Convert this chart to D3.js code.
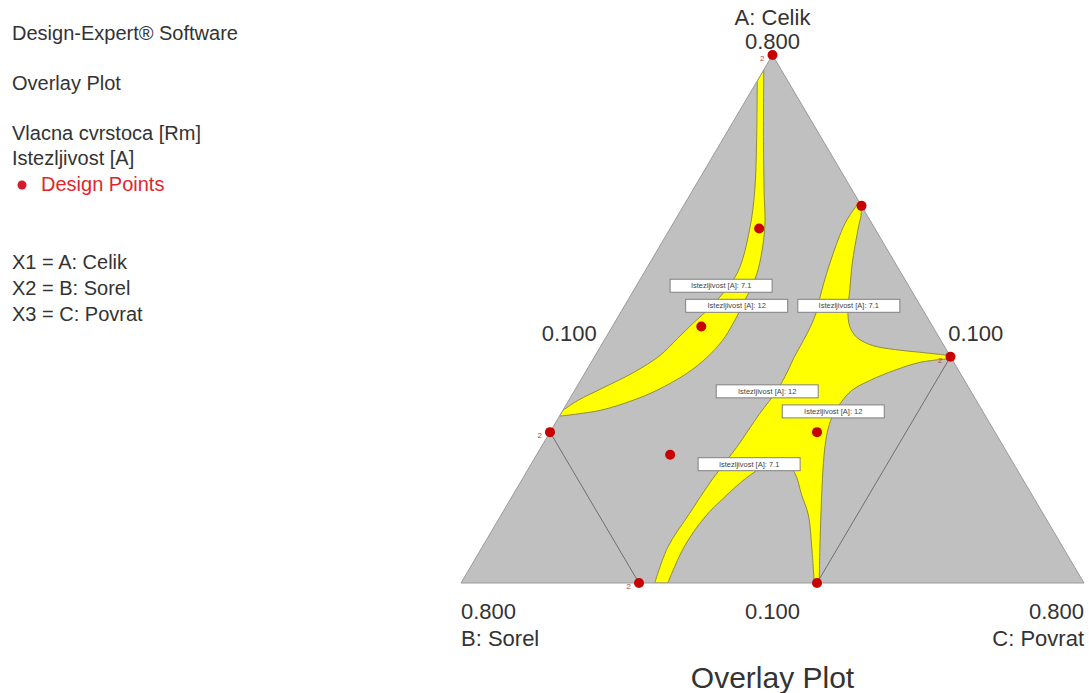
<!DOCTYPE html>
<html lang="en">
<head>
<meta charset="UTF-8">
<title>Overlay Plot</title>
<script src="https://d3js.org/d3.v7.min.js"></script>
<style>
  body { margin: 0; background: #fff; }
  svg { font-family: "Liberation Sans", Arial, sans-serif; }
  .side { font-size: 20px; fill: #333; }
  .tick { font-size: 22px; fill: #333; }
  .clabel { font-size: 7.5px; fill: #444; }
</style>
</head>
<body>
<svg id="chart" width="1089" height="693"></svg>
<script>
// mixture components, each between 0.100 and 0.800
var compNames = ['A: Celik', 'B: Sorel', 'C: Povrat'];
var compRange = [0.1, 0.8];

var sideLines = ['Design-Expert\u00ae Software', 'Overlay Plot', 'Vlacna cvrstoca [Rm]', 'Istezljivost [A]'];
var factorLines = ['X1 = A: Celik', 'X2 = B: Sorel', 'X3 = C: Povrat'];

// design points (real proportions) and replicate counts
var designA = [0.80, 0.60, 0.40, 0.30, 0.10, 0.10, 0.30, 0.27, 0.57, 0.44];
var designB = [0.10, 0.10, 0.10, 0.60, 0.60, 0.40, 0.30, 0.48, 0.23, 0.36];
var designC = [0.10, 0.30, 0.50, 0.10, 0.30, 0.50, 0.40, 0.25, 0.20, 0.20];
var designReps = [2, 1, 2, 2, 2, 1, 1, 1, 1, 1];

// constraint edges B <= 0.6 and C <= 0.5 (real proportions)
var constraintLines = [
  [[0.3, 0.6, 0.1], [0.1, 0.6, 0.3]],
  [[0.4, 0.1, 0.5], [0.1, 0.4, 0.5]]
];

// overlay (sweet spot) boundaries, pseudo fractions [A, B, C]
var band1Upper = [[0.951,0.049,0],[0.837,0.107,0.056],[0.743,0.157,0.100],[0.671,0.201,0.128],
  [0.586,0.264,0.150],[0.525,0.335,0.140],[0.493,0.380,0.127],[0.463,0.421,0.116],
  [0.431,0.465,0.104],[0.399,0.523,0.078],[0.367,0.593,0.040],[0.346,0.639,0.015],[0.327,0.673,0]];
var band1Lower = [[0.316,0.684,0],[0.327,0.613,0.060],[0.346,0.551,0.103],[0.365,0.503,0.132],
  [0.397,0.439,0.164],[0.427,0.392,0.181],[0.459,0.351,0.190],[0.491,0.318,0.191],
  [0.535,0.277,0.188],[0.586,0.232,0.182],[0.671,0.177,0.152],[0.743,0.142,0.115],
  [0.837,0.096,0.067],[0.972,0.028,0]];

var region2Top = [[0.722,0,0.278],[0.701,0.007,0.292],[0.677,0.023,0.300],[0.639,0.048,0.313],
  [0.601,0.072,0.327],[0.554,0.099,0.347],[0.516,0.121,0.363],[0.486,0.133,0.381],
  [0.465,0.132,0.403],[0.450,0.115,0.435],[0.442,0.082,0.476],[0.437,0.045,0.518],[0.431,0,0.569]];
var region2Arm = [[0.425,0.001,0.574],[0.418,0.054,0.528],[0.403,0.102,0.495],[0.384,0.152,0.465],
  [0.365,0.190,0.445],[0.342,0.219,0.439],[0.318,0.244,0.438],[0.293,0.265,0.443],
  [0.261,0.285,0.454],[0.214,0.312,0.474],[0.138,0.353,0.509],[0.062,0.393,0.545],[0,0.425,0.575]];
var region2Notch = [[0,0.433,0.567],[0.068,0.403,0.529],[0.129,0.379,0.493],[0.166,0.370,0.464],
  [0.210,0.361,0.430],[0.231,0.370,0.400],[0.223,0.399,0.378],[0.198,0.443,0.358],
  [0.163,0.495,0.342],[0.125,0.546,0.329],[0.068,0.608,0.324],[0,0.668,0.332]];
var region2Left = [[0,0.689,0.311],[0.068,0.634,0.298],[0.132,0.566,0.301],[0.195,0.500,0.305],
  [0.257,0.429,0.314],[0.321,0.360,0.319],[0.365,0.310,0.325],[0.399,0.277,0.324],
  [0.427,0.252,0.321],[0.459,0.221,0.320],[0.488,0.194,0.318],[0.512,0.174,0.314],
  [0.554,0.144,0.302],[0.616,0.097,0.287],[0.680,0.044,0.276],[0.711,0.012,0.277],[0.722,0,0.278]];

// contour labels (pseudo fractions)
var contourLabelText = ['Istezljivost [A]: 7.1', 'Istezljivost [A]: 12', 'Istezljivost [A]: 7.1',
  'Istezljivost [A]: 12', 'Istezljivost [A]: 12', 'Istezljivost [A]: 7.1'];
var contourLabelPos = [[0.563,0.301,0.136],[0.525,0.294,0.180],[0.525,0.115,0.360],
  [0.363,0.327,0.310],[0.325,0.240,0.435],[0.225,0.425,0.350]];

var svg = d3.select('#chart');

// ternary layout: A at top, B bottom left, C bottom right
var yScale = d3.scaleLinear().domain([0, 1]).range([583, 55]);
var xScale = d3.scaleLinear().domain([0, 1]).range([461, 1084]);
var pseudo = d3.scaleLinear().domain(compRange).range([0, 1]);
var fmt = d3.format('.3f');

function proj(p) { return [xScale(p[2] + p[0] / 2), yScale(p[0])]; }
function projReal(r) { return proj(r.map(pseudo)); }

var corners = [[1, 0, 0], [0, 1, 0], [0, 0, 1]].map(proj);

var line = d3.line()
  .x(function(d) { return proj(d)[0]; })
  .y(function(d) { return proj(d)[1]; })
  .curve(d3.curveCatmullRom.alpha(0.5));

function regionPath(segs) {
  return segs.map(function(s, i) {
    var d = line(s);
    return i ? 'L' + d.slice(1) : d;
  }).join('') + 'Z';
}

svg.append('clipPath').attr('id', 'tri')
  .append('polygon').attr('points', corners.join(' '));

svg.append('polygon')
  .attr('points', corners.join(' '))
  .attr('fill', '#c0c0c0');

var g = svg.append('g').attr('clip-path', 'url(#tri)');

g.selectAll('path.sweet')
  .data([[band1Upper, band1Lower], [region2Top, region2Arm, region2Notch, region2Left]])
  .enter().append('path')
    .attr('class', 'sweet')
    .attr('d', regionPath)
    .attr('fill', '#ffff00')
    .attr('stroke', '#8c8c3c')
    .attr('stroke-width', 1);

svg.selectAll('line.constraint')
  .data(constraintLines)
  .enter().append('line')
    .attr('x1', function(d) { return projReal(d[0])[0]; })
    .attr('y1', function(d) { return projReal(d[0])[1]; })
    .attr('x2', function(d) { return projReal(d[1])[0]; })
    .attr('y2', function(d) { return projReal(d[1])[1]; })
    .attr('stroke', '#6e6e6e')
    .attr('stroke-width', 1);

svg.append('polygon')
  .attr('points', corners.join(' '))
  .attr('fill', 'none')
  .attr('stroke', '#9a9a9a')
  .attr('stroke-width', 1);

// contour labels
var labels = svg.selectAll('g.clab')
  .data(contourLabelText)
  .enter().append('g')
    .attr('class', 'clab')
    .attr('transform', function(d, i) {
      var p = proj(contourLabelPos[i]);
      return 'translate(' + p[0] + ',' + p[1] + ')';
    });
labels.append('rect')
  .attr('x', -51).attr('y', -6.5)
  .attr('width', 102).attr('height', 13)
  .attr('fill', '#fff')
  .attr('stroke', '#808080')
  .attr('stroke-width', 1);
labels.append('text')
  .attr('class', 'clabel')
  .attr('text-anchor', 'middle')
  .attr('dy', 2.6)
  .text(function(d) { return d; });

// design points
var pts = designA.map(function(a, i) { return projReal([a, designB[i], designC[i]]); });
svg.selectAll('circle.dp')
  .data(pts)
  .enter().append('circle')
    .attr('cx', function(d) { return d[0]; })
    .attr('cy', function(d) { return d[1]; })
    .attr('r', 5)
    .attr('fill', '#c80000');
svg.selectAll('text.rep')
  .data(pts.filter(function(d, i) { return designReps[i] > 1; }))
  .enter().append('text')
    .attr('x', function(d) { return d[0] - 8; })
    .attr('y', function(d) { return d[1] + 6; })
    .attr('text-anchor', 'end')
    .attr('font-size', 8)
    .attr('fill', '#b04848')
    .text('2');

// axis labels
var vTop = corners[0], vLeft = corners[1], vRight = corners[2];
svg.append('text').attr('class', 'tick').attr('x', vTop[0]).attr('y', 25)
  .attr('text-anchor', 'middle').text(compNames[0]);
svg.append('text').attr('class', 'tick').attr('x', vTop[0]).attr('y', 49)
  .attr('text-anchor', 'middle').text(fmt(compRange[1]));

var midLeft = proj([0.5, 0.5, 0]), midRight = proj([0.5, 0, 0.5]), midBottom = proj([0, 0.5, 0.5]);
svg.append('text').attr('class', 'tick').attr('x', midLeft[0] - 20).attr('y', 341)
  .attr('text-anchor', 'end').text(fmt(compRange[0]));
svg.append('text').attr('class', 'tick').attr('x', midRight[0] + 20).attr('y', 341)
  .attr('text-anchor', 'start').text(fmt(compRange[0]));
svg.append('text').attr('class', 'tick').attr('x', midBottom[0]).attr('y', 619)
  .attr('text-anchor', 'middle').text(fmt(compRange[0]));

svg.append('text').attr('class', 'tick').attr('x', vLeft[0]).attr('y', 619)
  .attr('text-anchor', 'start').text(fmt(compRange[1]));
svg.append('text').attr('class', 'tick').attr('x', vLeft[0]).attr('y', 646)
  .attr('text-anchor', 'start').text(compNames[1]);
svg.append('text').attr('class', 'tick').attr('x', vRight[0]).attr('y', 619)
  .attr('text-anchor', 'end').text(fmt(compRange[1]));
svg.append('text').attr('class', 'tick').attr('x', vRight[0]).attr('y', 646)
  .attr('text-anchor', 'end').text(compNames[2]);

svg.append('text').attr('x', midBottom[0]).attr('y', 688)
  .attr('text-anchor', 'middle').attr('font-size', 30).attr('fill', '#333')
  .text('Overlay Plot');

// side notes
var sideY = [40, 90, 140, 165];
svg.selectAll('text.sideln')
  .data(sideLines)
  .enter().append('text')
    .attr('class', 'side')
    .attr('x', 12)
    .attr('y', function(d, i) { return sideY[i]; })
    .text(function(d) { return d; });
svg.append('circle').attr('cx', 22).attr('cy', 185).attr('r', 4.5).attr('fill', '#d8192a');
svg.append('text').attr('class', 'side').attr('x', 41).attr('y', 191)
  .style('fill', '#e0262b').text('Design Points');
svg.selectAll('text.factor')
  .data(factorLines)
  .enter().append('text')
    .attr('class', 'side')
    .attr('x', 12)
    .attr('y', function(d, i) { return 269 + i * 26; })
    .text(function(d) { return d; });
</script>
</body>
</html>
